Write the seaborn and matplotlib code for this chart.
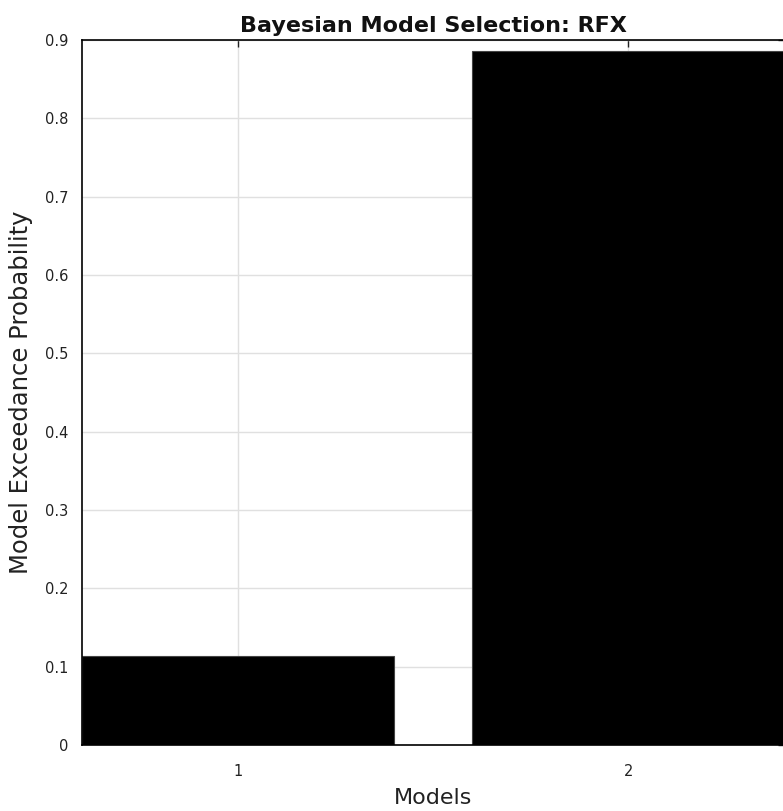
import matplotlib
matplotlib.use("Agg")
import matplotlib.pyplot as plt
import seaborn as sns
import pandas as pd

models = ["1", "2"]
exceedance = [0.1135, 0.8865]
yticks = [0, 0.1, 0.2, 0.3, 0.4, 0.5, 0.6, 0.7, 0.8, 0.9]
ytick_labels = ["0", "0.1", "0.2", "0.3", "0.4", "0.5", "0.6", "0.7", "0.8", "0.9"]

sns.set_style("white")
plt.rcParams['font.family'] = ['DejaVu Sans']

df = pd.DataFrame({"Models": models, "EP": exceedance})

fig = plt.figure(figsize=(7.83, 8.11), dpi=100)
ax = fig.add_axes([82/783, 1 - 745/811, 1 - 82/783 + 0.002, (745 - 40)/811])
sns.barplot(data=df, x="Models", y="EP", color="black", width=0.8,
            saturation=1, edgecolor="#444444", linewidth=0.8, ax=ax, zorder=2)
ax.set_xlim(-0.4, 1.4)
ax.set_ylim(0, 0.9)
ax.set_yticks(yticks)
ax.set_yticklabels(ytick_labels)
ax.grid(True, color="#e0e0e0", linewidth=1)
ax.set_axisbelow(True)
for s in ax.spines.values():
    s.set_visible(True)
    s.set_color("black")
    s.set_linewidth(1.2)
ax.tick_params(direction="in", length=5, width=1, top=True, right=True,
               labelsize=10.5, pad=10, colors="#222222")
ax.tick_params(axis="x", pad=14)
ax.set_title("Bayesian Model Selection: RFX", fontsize=16, fontweight="bold",
             pad=6, color="#111111")
ax.set_xlabel("Models", fontsize=16, labelpad=6, color="#222222")
ax.set_ylabel("Model Exceedance Probability", fontsize=17.5, labelpad=8, color="#222222")

fig.savefig("out.png", dpi=100)
